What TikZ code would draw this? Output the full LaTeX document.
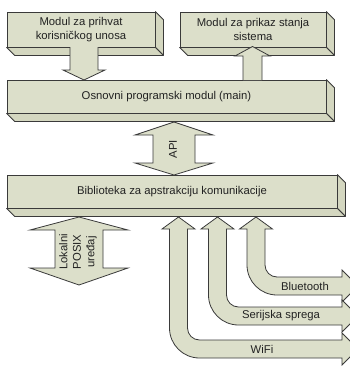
\documentclass[tikz,border=0pt]{standalone}
\usepackage{fontspec}
\setmainfont{Liberation Sans}
\definecolor{boxfill}{HTML}{DCDFCA}
\definecolor{sidefill}{HTML}{D4D7C0}
\definecolor{edge}{HTML}{3A3A3A}
\definecolor{txt}{HTML}{222222}
\newcommand\boxfaces[1]{%
  \draw[face] (#1.north east) -- ++(8,8) -- ([shift={(8,8)}]#1.south east) -- (#1.south east) -- cycle;
  \draw[face] (#1.south west) -- (#1.south east) -- ([shift={(8,8)}]#1.south east) -- ([shift={(8,8)}]#1.south west) -- cycle;}
\newcommand\bentarrow[2]{%
  \filldraw[barrow] (#1,217) -- (#1+16.5,229) -- (#1+9,229) -- (#1+9,#2-12)
    .. controls (#1+9,#2-5.37) and (#1+14.37,#2) .. (#1+21,#2)
    -- (342,#2) -- (342,#2-7) -- (358,#2+9) -- (342,#2+25) -- (342,#2+18) -- (#1+21,#2+18)
    .. controls (#1+4.43,#2+18) and (#1-9,#2+4.57) .. (#1-9,#2-12)
    -- (#1-9,229) -- (#1-16.5,229) -- cycle;}
\begin{document}
\begin{tikzpicture}[x=1pt,y=-1pt,
  font=\fontsize{11.3}{13.5}\selectfont,
  box/.style={draw=edge, fill=boxfill, line width=0.8pt, inner sep=0pt, align=center, text=txt},
  face/.style={draw=edge, fill=sidefill, line width=0.8pt, line join=round},
  barrow/.style={draw=edge, fill=boxfill, line width=0.8pt, line join=miter},
  lbl/.style={text=txt, inner sep=0pt, align=center}]
\useasboundingbox (0,0) rectangle (350,367);

% boxes
\node[box, minimum width=148pt, minimum height=35pt] (m1) at (81,29.5) {Modul za prihvat\\korisničkog unosa};
\boxfaces{m1}
\node[box, minimum width=146pt, minimum height=35pt] (m2) at (253,29.5) {Modul za prikaz stanja\\sistema};
\boxfaces{m2}
\node[box, minimum width=319pt, minimum height=33pt] (m3) at (166.5,96.5) {Osnovni programski modul (main)};
\boxfaces{m3}
\node[box, minimum width=330pt, minimum height=33pt] (m4) at (172,191.5) {Biblioteka za apstrakciju komunikacije};
\boxfaces{m4}

% arrow from m1 down to m3
\filldraw[barrow] (70,47) -- (70,70) -- (63,70) -- (84,80) -- (105,70) -- (98,70) -- (98,47);
% arrow from m3 up to m2
\filldraw[barrow] (243,80) -- (243,56) -- (235,56) -- (252.5,46.5) -- (270,56) -- (262,56) -- (262,80);

% API double arrow
\filldraw[barrow] (174,122) -- (213,135) -- (195,135) -- (195,163) -- (213,163) -- (174,175)
  -- (135,163) -- (153,163) -- (153,135) -- (135,135) -- cycle;
\node[lbl, rotate=90] (api) at (173,149) {API};

% POSIX double arrow
\filldraw[barrow] (79,217) -- (128,230) -- (103,230) -- (103,268) -- (128,268) -- (79,285)
  -- (30,268) -- (55,268) -- (55,230) -- (30,230) -- cycle;
\node[lbl, rotate=90] (posix) at (78,252) {Lokalni\\POSIX\\uređaj};

% bent arrows
\begin{scope}
\clip (0,0) rectangle (350,367);
\bentarrow{256}{277}
\bentarrow{217.5}{307}
\bentarrow{178.5}{340}
\end{scope}
\node[lbl] (bt) at (305,286) {Bluetooth};
\node[lbl] (ser) at (281,316) {Serijska sprega};
\node[lbl] (wifi) at (262,349) {WiFi};
\end{tikzpicture}
\end{document}
